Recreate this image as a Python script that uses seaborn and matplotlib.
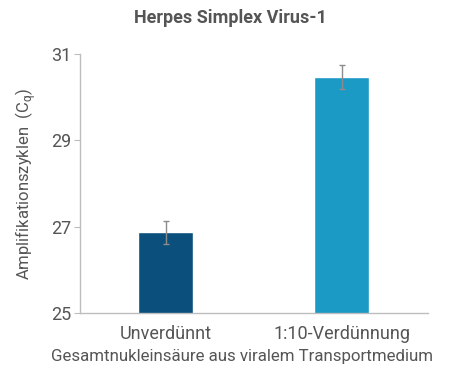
import pandas as pd
import numpy as np
import seaborn as sns
import matplotlib.pyplot as plt

# values
samples = ["Unverdünnt", "1:10-Verdünnung"]
cq_mean = [26.87, 30.47]
cq_err = [0.26, 0.28]
bar_colors = ["#0b507d", "#1a9ac5"]

df = pd.DataFrame({"sample": samples, "cq": cq_mean})

sns.set_style("white")
plt.rcParams["font.family"] = ["Roboto", "DejaVu Sans"]

fig = plt.figure(figsize=(4.6, 3.68), dpi=100)
ax = fig.add_axes([0.174, 0.149, 0.756, 0.704])

sns.barplot(data=df, x="sample", y="cq", hue="sample", palette=bar_colors,
            saturation=1, width=0.31, legend=False, ax=ax)
ax.errorbar(x=np.arange(len(samples)), y=cq_mean, yerr=cq_err, fmt="none",
            ecolor="#8c8c8c", elinewidth=1, capsize=2.5, capthick=1)

ax.set_ylim(25, 31)
ax.set_xlim(-0.486, 1.49)
ax.set_yticks([25, 27, 29, 31])

for s in ["top", "right"]:
    ax.spines[s].set_visible(False)
for s in ["left", "bottom"]:
    ax.spines[s].set_color("#bdbdbd")
    ax.spines[s].set_linewidth(1)

ax.tick_params(axis="y", left=True, length=4, color="#bdbdbd", labelsize=13,
               labelcolor="#555555", pad=2)
ax.tick_params(axis="x", bottom=False, labelsize=13, labelcolor="#555555", pad=5)

ax.set_xlabel("Gesamtnukleinsäure aus viralem Transportmedium", fontsize=12.2,
              color="#555555")
ax.xaxis.set_label_coords(0.465, -0.14)
ax.set_ylabel(r"Amplifikationszyklen  (C$_\mathregular{q}$)", fontsize=12,
              color="#555555", labelpad=10)
fig.suptitle("Herpes Simplex Virus-1", x=0.5, y=0.975, fontsize=13,
             fontweight="bold", color="#555555")

fig.savefig("out.png", dpi=100)
